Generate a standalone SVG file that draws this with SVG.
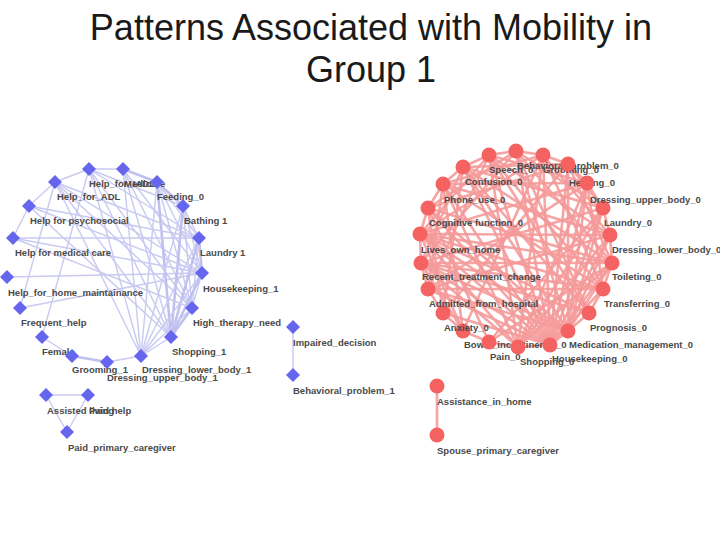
<svg xmlns="http://www.w3.org/2000/svg" xmlns:xlink="http://www.w3.org/1999/xlink" width="720" height="540" viewBox="0 0 720 540">
<style>
.title{font-family:"Liberation Sans",Arial,sans-serif;font-size:36px;fill:#1a1a1a;text-anchor:middle}
.lbl{font-family:"Liberation Sans",Arial,sans-serif;font-size:9.5px;font-weight:bold;fill:#4a4a4a}
.eb{stroke:#c9c9f2;stroke-width:1.4;fill:none}
.ebk{stroke:#c0c0ee;stroke-width:2.6;fill:none}
.er{stroke:#f59a9a;stroke-width:2.6;fill:none;opacity:0.9}
.nb{fill:#6565ee}
.nr{fill:#f46262}
</style>
<defs>
<path id="dia" d="M0,-7 L7,0 L0,7 L-7,0Z"/>
</defs>
<rect width="720" height="540" fill="#ffffff"/>
<g id="title">
<text class="title" x="371" y="40">Patterns Associated with Mobility in</text>
<text class="title" x="371" y="82">Group 1</text>
</g>
<g id="connectors">
<!-- left cluster -->
<line class="eb" x1="89" y1="169" x2="123" y2="169"/>
<line class="eb" x1="89" y1="169" x2="55" y2="182"/>
<line class="eb" x1="55" y1="182" x2="29" y2="206"/>
<line class="eb" x1="29" y1="206" x2="13" y2="238"/>
<line class="ebk" x1="123" y1="169" x2="157" y2="182"/>
<line class="ebk" x1="157" y1="182" x2="183" y2="206"/>
<line class="eb" x1="183" y1="206" x2="199" y2="238"/>
<line class="ebk" x1="199" y1="238" x2="202" y2="273"/>
<line class="eb" x1="202" y1="273" x2="192" y2="308"/>
<line class="ebk" x1="192" y1="308" x2="171" y2="337"/>
<line class="eb" x1="171" y1="337" x2="141" y2="356"/>
<line class="eb" x1="141" y1="356" x2="107" y2="362"/>
<line class="ebk" x1="107" y1="362" x2="72" y2="356"/>
<line class="eb" x1="72" y1="356" x2="42" y2="337"/>
<line class="eb" x1="7" y1="277" x2="202" y2="273"/>
<line class="eb" x1="20" y1="308" x2="202" y2="273"/>
<line class="eb" x1="55" y1="182" x2="141" y2="356"/>
<line class="eb" x1="42" y1="337" x2="89" y2="169"/>
<line class="eb" x1="55" y1="182" x2="171" y2="337"/>
<line class="eb" x1="55" y1="182" x2="192" y2="308"/>
<line class="eb" x1="55" y1="182" x2="202" y2="273"/>
<line class="eb" x1="89" y1="169" x2="171" y2="337"/>
<line class="eb" x1="89" y1="169" x2="192" y2="308"/>
<line class="eb" x1="89" y1="169" x2="199" y2="238"/>
<line class="eb" x1="123" y1="169" x2="171" y2="337"/>
<line class="eb" x1="123" y1="169" x2="192" y2="308"/>
<line class="eb" x1="123" y1="169" x2="202" y2="273"/>
<line class="eb" x1="123" y1="169" x2="141" y2="356"/>
<line class="ebk" x1="157" y1="182" x2="171" y2="337"/>
<line class="eb" x1="157" y1="182" x2="192" y2="308"/>
<line class="eb" x1="157" y1="182" x2="202" y2="273"/>
<line class="eb" x1="157" y1="182" x2="199" y2="238"/>
<line class="eb" x1="157" y1="182" x2="141" y2="356"/>
<line class="ebk" x1="183" y1="206" x2="171" y2="337"/>
<line class="eb" x1="183" y1="206" x2="192" y2="308"/>
<line class="eb" x1="183" y1="206" x2="202" y2="273"/>
<line class="eb" x1="183" y1="206" x2="141" y2="356"/>
<line class="ebk" x1="199" y1="238" x2="171" y2="337"/>
<line class="eb" x1="199" y1="238" x2="192" y2="308"/>
<line class="eb" x1="199" y1="238" x2="141" y2="356"/>
<line class="ebk" x1="202" y1="273" x2="171" y2="337"/>
<line class="eb" x1="202" y1="273" x2="141" y2="356"/>
<line class="eb" x1="29" y1="206" x2="199" y2="238"/>
<line class="eb" x1="29" y1="206" x2="202" y2="273"/>
<line class="eb" x1="29" y1="206" x2="171" y2="337"/>
<line class="eb" x1="13" y1="238" x2="199" y2="238"/>
<line class="eb" x1="13" y1="238" x2="192" y2="308"/>
<line class="eb" x1="13" y1="238" x2="202" y2="273"/>
<line class="eb" x1="89" y1="169" x2="183" y2="206"/>
<line class="eb" x1="55" y1="182" x2="199" y2="238"/>
<line class="eb" x1="192" y1="308" x2="141" y2="356"/>
<line class="eb" x1="89" y1="169" x2="141" y2="356"/>
<line class="eb" x1="20" y1="308" x2="55" y2="182"/>
<line class="eb" x1="46" y1="395" x2="88" y2="395"/>
<line class="eb" x1="46" y1="395" x2="67" y2="432"/>
<line class="eb" x1="88" y1="395" x2="67" y2="432"/>
<line class="eb" x1="293" y1="327" x2="293" y2="375"/>
<!-- right cluster -->
<line class="er" x1="420" y1="234" x2="428" y2="208"/>
<line class="er" x1="428" y1="208" x2="443" y2="184"/>
<line class="er" x1="443" y1="184" x2="463" y2="167"/>
<line class="er" x1="463" y1="167" x2="489" y2="155"/>
<line class="er" x1="489" y1="155" x2="516" y2="151"/>
<line class="er" x1="516" y1="151" x2="543" y2="155"/>
<line class="er" x1="543" y1="155" x2="568" y2="164"/>
<line class="er" x1="568" y1="164" x2="587" y2="183"/>
<line class="er" x1="587" y1="183" x2="603" y2="208"/>
<line class="er" x1="603" y1="208" x2="610" y2="235"/>
<line class="er" x1="610" y1="235" x2="612" y2="263"/>
<line class="er" x1="612" y1="263" x2="603" y2="289"/>
<line class="er" x1="603" y1="289" x2="589" y2="313"/>
<line class="er" x1="589" y1="313" x2="568" y2="331"/>
<line class="er" x1="568" y1="331" x2="550" y2="345"/>
<line class="er" x1="550" y1="345" x2="518" y2="347"/>
<line class="er" x1="518" y1="347" x2="489" y2="342"/>
<line class="er" x1="489" y1="342" x2="463" y2="331"/>
<line class="er" x1="463" y1="331" x2="443" y2="313"/>
<line class="er" x1="443" y1="313" x2="428" y2="289"/>
<line class="er" x1="428" y1="289" x2="421" y2="263"/>
<line class="er" x1="421" y1="263" x2="420" y2="234"/>
<line class="er" x1="550" y1="345" x2="420" y2="234"/>
<line class="er" x1="550" y1="345" x2="428" y2="208"/>
<line class="er" x1="550" y1="345" x2="443" y2="184"/>
<line class="er" x1="550" y1="345" x2="463" y2="167"/>
<line class="er" x1="550" y1="345" x2="489" y2="155"/>
<line class="er" x1="550" y1="345" x2="516" y2="151"/>
<line class="er" x1="550" y1="345" x2="543" y2="155"/>
<line class="er" x1="550" y1="345" x2="568" y2="164"/>
<line class="er" x1="550" y1="345" x2="587" y2="183"/>
<line class="er" x1="550" y1="345" x2="603" y2="208"/>
<line class="er" x1="550" y1="345" x2="610" y2="235"/>
<line class="er" x1="550" y1="345" x2="612" y2="263"/>
<line class="er" x1="550" y1="345" x2="603" y2="289"/>
<line class="er" x1="550" y1="345" x2="443" y2="313"/>
<line class="er" x1="550" y1="345" x2="428" y2="289"/>
<line class="er" x1="550" y1="345" x2="421" y2="263"/>
<line class="er" x1="518" y1="347" x2="420" y2="234"/>
<line class="er" x1="518" y1="347" x2="443" y2="184"/>
<line class="er" x1="518" y1="347" x2="489" y2="155"/>
<line class="er" x1="518" y1="347" x2="543" y2="155"/>
<line class="er" x1="518" y1="347" x2="587" y2="183"/>
<line class="er" x1="518" y1="347" x2="603" y2="208"/>
<line class="er" x1="518" y1="347" x2="610" y2="235"/>
<line class="er" x1="518" y1="347" x2="612" y2="263"/>
<line class="er" x1="518" y1="347" x2="421" y2="263"/>
<line class="er" x1="568" y1="331" x2="428" y2="208"/>
<line class="er" x1="568" y1="331" x2="463" y2="167"/>
<line class="er" x1="568" y1="331" x2="516" y2="151"/>
<line class="er" x1="568" y1="331" x2="568" y2="164"/>
<line class="er" x1="568" y1="331" x2="587" y2="183"/>
<line class="er" x1="568" y1="331" x2="603" y2="208"/>
<line class="er" x1="568" y1="331" x2="610" y2="235"/>
<line class="er" x1="568" y1="331" x2="612" y2="263"/>
<line class="er" x1="568" y1="331" x2="428" y2="289"/>
<line class="er" x1="568" y1="331" x2="421" y2="263"/>
<line class="er" x1="568" y1="331" x2="420" y2="234"/>
<line class="er" x1="603" y1="289" x2="420" y2="234"/>
<line class="er" x1="603" y1="289" x2="443" y2="184"/>
<line class="er" x1="603" y1="289" x2="489" y2="155"/>
<line class="er" x1="603" y1="289" x2="543" y2="155"/>
<line class="er" x1="603" y1="289" x2="587" y2="183"/>
<line class="er" x1="603" y1="289" x2="421" y2="263"/>
<line class="er" x1="603" y1="289" x2="428" y2="289"/>
<line class="er" x1="612" y1="263" x2="428" y2="208"/>
<line class="er" x1="612" y1="263" x2="463" y2="167"/>
<line class="er" x1="612" y1="263" x2="516" y2="151"/>
<line class="er" x1="612" y1="263" x2="568" y2="164"/>
<line class="er" x1="612" y1="263" x2="421" y2="263"/>
<line class="er" x1="612" y1="263" x2="420" y2="234"/>
<line class="er" x1="610" y1="235" x2="443" y2="184"/>
<line class="er" x1="610" y1="235" x2="489" y2="155"/>
<line class="er" x1="610" y1="235" x2="543" y2="155"/>
<line class="er" x1="610" y1="235" x2="420" y2="234"/>
<line class="er" x1="610" y1="235" x2="428" y2="289"/>
<line class="er" x1="603" y1="208" x2="463" y2="167"/>
<line class="er" x1="603" y1="208" x2="516" y2="151"/>
<line class="er" x1="603" y1="208" x2="568" y2="164"/>
<line class="er" x1="603" y1="208" x2="421" y2="263"/>
<line class="er" x1="587" y1="183" x2="443" y2="184"/>
<line class="er" x1="587" y1="183" x2="489" y2="155"/>
<line class="er" x1="587" y1="183" x2="428" y2="289"/>
<line class="er" x1="587" y1="183" x2="420" y2="234"/>
<line class="er" x1="568" y1="164" x2="463" y2="167"/>
<line class="er" x1="568" y1="164" x2="428" y2="208"/>
<line class="er" x1="568" y1="164" x2="443" y2="313"/>
<line class="er" x1="543" y1="155" x2="443" y2="184"/>
<line class="er" x1="543" y1="155" x2="420" y2="234"/>
<line class="er" x1="543" y1="155" x2="463" y2="331"/>
<line class="er" x1="516" y1="151" x2="428" y2="208"/>
<line class="er" x1="516" y1="151" x2="421" y2="263"/>
<line class="er" x1="516" y1="151" x2="589" y2="313"/>
<line class="er" x1="489" y1="155" x2="420" y2="234"/>
<line class="er" x1="489" y1="155" x2="428" y2="289"/>
<line class="er" x1="489" y1="155" x2="589" y2="313"/>
<line class="er" x1="463" y1="167" x2="421" y2="263"/>
<line class="er" x1="463" y1="167" x2="443" y2="313"/>
<line class="er" x1="463" y1="167" x2="589" y2="313"/>
<line class="er" x1="443" y1="184" x2="428" y2="289"/>
<line class="er" x1="443" y1="184" x2="463" y2="331"/>
<line class="er" x1="428" y1="208" x2="443" y2="313"/>
<line class="er" x1="428" y1="208" x2="489" y2="342"/>
<line class="er" x1="420" y1="234" x2="463" y2="331"/>
<line class="er" x1="420" y1="234" x2="589" y2="313"/>
<line class="er" x1="421" y1="263" x2="589" y2="313"/>
<line class="er" x1="421" y1="263" x2="463" y2="331"/>
<line class="er" x1="489" y1="342" x2="603" y2="208"/>
<line class="er" x1="489" y1="342" x2="612" y2="263"/>
<line class="er" x1="437" y1="386" x2="437" y2="435"/>
</g>
<g id="n-bowel"><text class="lbl" x="464" y="347.5">Bowel_incontinence_0</text><circle class="nr" cx="463" cy="331" r="7.5"/></g>
<g id="n-pain"><text class="lbl" x="490" y="359.5">Pain_0</text><circle class="nr" cx="489" cy="342" r="7.5"/></g>
<g id="n-shopping0"><text class="lbl" x="520" y="364.5">Shopping_0</text><circle class="nr" cx="518" cy="347" r="7.5"/></g>
<g id="n-housekeeping0"><text class="lbl" x="552" y="362">Housekeeping_0</text><circle class="nr" cx="550" cy="345" r="7.5"/></g>
<g id="n-medication"><text class="lbl" x="569" y="347.5">Medication_management_0</text><circle class="nr" cx="568" cy="331" r="7.5"/></g>
<g id="n-prognosis"><text class="lbl" x="590" y="330.5">Prognosis_0</text><circle class="nr" cx="589" cy="313" r="7.5"/></g>
<g id="n-transferring"><text class="lbl" x="604" y="306.5">Transferring_0</text><circle class="nr" cx="603" cy="289" r="7.5"/></g>
<g id="n-toileting"><text class="lbl" x="612" y="279.5">Toileting_0</text><circle class="nr" cx="612" cy="263" r="7.5"/></g>
<g id="n-anxiety"><text class="lbl" x="444" y="330.5">Anxiety_0</text><circle class="nr" cx="443" cy="313" r="7.5"/></g>
<g id="n-admitted"><text class="lbl" x="429" y="306.5">Admitted_from_hospital</text><circle class="nr" cx="428" cy="289" r="7.5"/></g>
<g id="n-recent"><text class="lbl" x="422" y="279.5">Recent_treatment_change</text><circle class="nr" cx="421" cy="263" r="7.5"/></g>
<g id="n-lives"><text class="lbl" x="421" y="252.5">Lives_own_home</text><circle class="nr" cx="420" cy="234" r="7.5"/></g>
<g id="n-dresslower0"><text class="lbl" x="612" y="252.5">Dressing_lower_body_0</text><circle class="nr" cx="610" cy="235" r="7.5"/></g>
<g id="n-cognitive"><text class="lbl" x="429" y="225.5">Cognitive function_0</text><circle class="nr" cx="428" cy="208" r="7.5"/></g>
<g id="n-laundry0"><text class="lbl" x="604" y="225.5">Laundry_0</text><circle class="nr" cx="603" cy="208" r="7.5"/></g>
<g id="n-phone"><text class="lbl" x="444" y="203">Phone_use_0</text><circle class="nr" cx="443" cy="184" r="7.5"/></g>
<g id="n-confusion"><text class="lbl" x="465" y="184.5">Confusion_0</text><circle class="nr" cx="463" cy="167" r="7.5"/></g>
<g id="n-speech"><text class="lbl" x="489" y="173">Speech_0</text><circle class="nr" cx="489" cy="155" r="7.5"/></g>
<g id="n-behav0"><text class="lbl" x="517" y="168.5">Behavioral_problem_0</text><circle class="nr" cx="516" cy="151" r="7.5"/></g>
<g id="n-grooming0"><text class="lbl" x="543" y="173">Grooming_0</text><circle class="nr" cx="543" cy="155" r="7.5"/></g>
<g id="n-hearing"><text class="lbl" x="569" y="185.5">Hearing_0</text><circle class="nr" cx="568" cy="164" r="7.5"/></g>
<g id="n-dressupper0"><text class="lbl" x="590" y="203">Dressing_upper_body_0</text><circle class="nr" cx="587" cy="183" r="7.5"/></g>
<g id="n-assistance"><text class="lbl" x="437" y="404.5">Assistance_in_home</text><circle class="nr" cx="437" cy="386" r="7.5"/></g>
<g id="n-spouse"><text class="lbl" x="437" y="453.5">Spouse_primary_caregiver</text><circle class="nr" cx="437" cy="435" r="7.5"/></g>
<g id="n-helpiadl"><text class="lbl" x="89" y="186.5">Help_for_IADL</text><use href="#dia" class="nb" x="89" y="169"/></g>
<g id="n-medicare"><text class="lbl" x="124" y="186.5">Medicare</text><use href="#dia" class="nb" x="123" y="169"/></g>
<g id="n-helpadl"><text class="lbl" x="57" y="200">Help_for_ADL</text><use href="#dia" class="nb" x="55" y="182"/></g>
<g id="n-feeding"><text class="lbl" x="157" y="200">Feeding_0</text><use href="#dia" class="nb" x="157" y="182"/></g>
<g id="n-psycho"><text class="lbl" x="30" y="223.5">Help for psychosocial</text><use href="#dia" class="nb" x="29" y="206"/></g>
<g id="n-bathing"><text class="lbl" x="184" y="223.5">Bathing 1</text><use href="#dia" class="nb" x="183" y="206"/></g>
<g id="n-medical"><text class="lbl" x="15" y="255.5">Help for medical care</text><use href="#dia" class="nb" x="13" y="238"/></g>
<g id="n-laundry1"><text class="lbl" x="200" y="255.5">Laundry 1</text><use href="#dia" class="nb" x="199" y="238"/></g>
<g id="n-homemaint"><text class="lbl" x="8" y="295.5">Help_for_home_maintainance</text><use href="#dia" class="nb" x="7" y="277"/></g>
<g id="n-housekeeping1"><text class="lbl" x="203" y="291.5">Housekeeping_1</text><use href="#dia" class="nb" x="202" y="273"/></g>
<g id="n-frequent"><text class="lbl" x="21" y="325.5">Frequent_help</text><use href="#dia" class="nb" x="20" y="308"/></g>
<g id="n-hightherapy"><text class="lbl" x="193" y="325.5">High_therapy_need</text><use href="#dia" class="nb" x="192" y="308"/></g>
<g id="n-female"><text class="lbl" x="42" y="354.5">Female</text><use href="#dia" class="nb" x="42" y="337"/></g>
<g id="n-shopping1"><text class="lbl" x="172" y="354.5">Shopping_1</text><use href="#dia" class="nb" x="171" y="337"/></g>
<g id="n-grooming1"><text class="lbl" x="72" y="372.5">Grooming_1</text><use href="#dia" class="nb" x="72" y="356"/></g>
<g id="n-dresslower1"><text class="lbl" x="142" y="372.5">Dressing_lower_body_1</text><use href="#dia" class="nb" x="141" y="356"/></g>
<g id="n-dressupper1"><text class="lbl" x="107" y="380.5">Dressing_upper_body_1</text><use href="#dia" class="nb" x="107" y="362"/></g>
<g id="n-impaired"><text class="lbl" x="293" y="345.5">Impaired_decision</text><use href="#dia" class="nb" x="293" y="327"/></g>
<g id="n-behav1"><text class="lbl" x="293" y="393.5">Behavioral_problem_1</text><use href="#dia" class="nb" x="293" y="375"/></g>
<g id="n-assisted"><text class="lbl" x="47" y="413.5">Assisted living</text><use href="#dia" class="nb" x="46" y="395"/></g>
<g id="n-paidhelp"><text class="lbl" x="89" y="413.5">Paid help</text><use href="#dia" class="nb" x="88" y="395"/></g>
<g id="n-paidprimary"><text class="lbl" x="68" y="450.5">Paid_primary_caregiver</text><use href="#dia" class="nb" x="67" y="432"/></g>
</svg>
